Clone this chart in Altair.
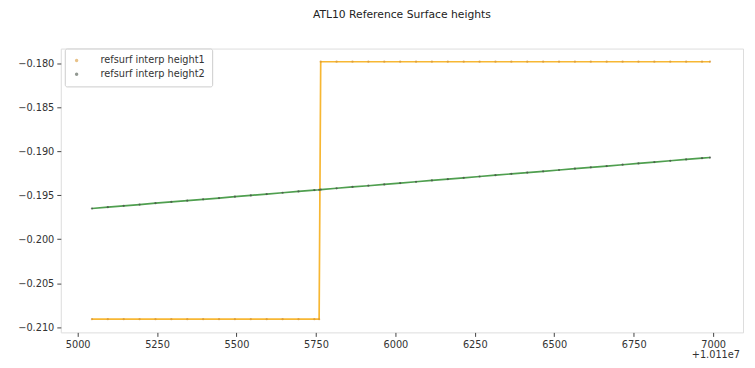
import altair as alt
import pandas as pd

# x values are offsets from 1.011e7
x_off = [5045, 5095, 5145, 5195, 5245, 5295, 5345, 5395, 5445, 5495, 5545, 5595,
         5645, 5695, 5745, 5760, 5765, 5815, 5865, 5915, 5965, 6015, 6065, 6115,
         6165, 6215, 6265, 6315, 6365, 6415, 6465, 6515, 6565, 6615, 6665, 6715,
         6765, 6815, 6865, 6915, 6965, 6990]

height1 = [-0.2091, -0.2091, -0.2091, -0.2091, -0.2091, -0.2091, -0.2091, -0.2091,
           -0.2091, -0.2091, -0.2091, -0.2091, -0.2091, -0.2091, -0.2091, -0.2091,
           -0.1798, -0.1798, -0.1798, -0.1798, -0.1798, -0.1798, -0.1798, -0.1798,
           -0.1798, -0.1798, -0.1798, -0.1798, -0.1798, -0.1798, -0.1798, -0.1798,
           -0.1798, -0.1798, -0.1798, -0.1798, -0.1798, -0.1798, -0.1798, -0.1798,
           -0.1798, -0.1798]

height2 = [-0.19650, -0.19635, -0.19620, -0.19605, -0.19590, -0.19575, -0.19561,
           -0.19546, -0.19531, -0.19516, -0.19501, -0.19486, -0.19471, -0.19456,
           -0.19441, -0.19437, -0.19435, -0.19420, -0.19405, -0.19391, -0.19376,
           -0.19361, -0.19346, -0.19331, -0.19316, -0.19301, -0.19286, -0.19271,
           -0.19256, -0.19241, -0.19227, -0.19212, -0.19197, -0.19182, -0.19167,
           -0.19152, -0.19137, -0.19122, -0.19107, -0.19092, -0.19077, -0.19070]

series_names = ["refsurf interp height1", "refsurf interp height2"]
line_colors = ["#f7b733", "#4f9f4f"]
point_colors = ["#d99a3a", "#4a554a"]
x_ticks = [5000, 5250, 5500, 5750, 6000, 6250, 6500, 6750, 7000]
y_ticks = [-0.210, -0.205, -0.200, -0.195, -0.190, -0.185, -0.180]
offset_label = "+1.011e7"
title = "ATL10 Reference Surface heights"

rows = []
for name, ys in zip(series_names, [height1, height2]):
    for i, (xv, yv) in enumerate(zip(x_off, ys)):
        rows.append({"x": xv, "y": yv, "series": name, "order": i})
df = pd.DataFrame(rows)

W, H = 685, 285
FONT = "DejaVu Sans"
FS = 9.8

xscale = alt.Scale(domain=[4947, 7094], nice=False, zero=False)
yscale = alt.Scale(domain=[-0.2106, -0.1783], nice=False, zero=False)

xenc = alt.X("x:Q", scale=xscale,
             axis=alt.Axis(values=x_ticks, format="d", title=None, grid=False,
                           tickSize=4, labelFontSize=FS, labelPadding=3,
                           domain=False, tickColor="#444", labelColor="#333",
                           labelFont=FONT))
yenc = alt.Y("y:Q", scale=yscale,
             axis=alt.Axis(values=y_ticks, format=".3f", title=None, grid=False,
                           tickSize=4, labelFontSize=FS, labelPadding=3,
                           domain=False, tickColor="#444", labelColor="#333",
                           labelFont=FONT))

line_layers = []
for name, col in zip(series_names, line_colors):
    line_layers.append(
        alt.Chart(df).transform_filter(alt.datum.series == name)
        .mark_line(strokeWidth=1.7, color=col)
        .encode(x=xenc, y=yenc, order="order:Q")
    )

points = alt.Chart(df).mark_point(filled=True, size=5, opacity=0.8, shape="circle").encode(
    x="x:Q", y="y:Q",
    color=alt.Color("series:N",
                    scale=alt.Scale(domain=series_names, range=point_colors),
                    legend=alt.Legend(title=None, orient="none", legendX=4, legendY=0,
                                      fillColor="white", strokeColor="#cccccc",
                                      padding=7, cornerRadius=2, labelFontSize=FS,
                                      labelFont=FONT, labelColor="#333",
                                      symbolSize=12, symbolType="circle",
                                      labelOffset=19, rowPadding=3,
                                      symbolOpacity=0.6)),
)

offset_text = alt.Chart(pd.DataFrame({"t": [offset_label]})).mark_text(
    align="right", baseline="middle", fontSize=FS, font=FONT, color="#333"
).encode(text="t:N", x=alt.value(W - 3), y=alt.value(H + 23))

chart = alt.layer(*line_layers, points, offset_text).properties(
    width=W, height=H,
    title=alt.Title(title, fontSize=10.8, font=FONT, fontWeight="normal",
                    color="#222", anchor="middle", offset=28),
    autosize=alt.AutoSizeParams(type="none"),
    padding={"left": 53, "top": 40, "right": 4, "bottom": 28},
).configure_view(stroke="#333", strokeWidth=1).configure(background="white")

chart.save("out.html", embed_options={"renderer": "svg", "actions": False})
